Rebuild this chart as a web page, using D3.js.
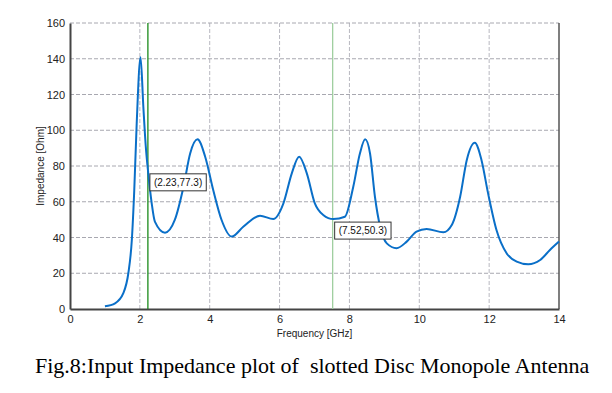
<!DOCTYPE html>
<html>
<head>
<meta charset="utf-8">
<script src="https://cdn.jsdelivr.net/npm/d3@7"></script>
<style>
  body { margin: 0; background: #fff; }
  svg { display: block; }
</style>
</head>
<body>
<div id="chart"></div>
<script>
const width = 612, height = 393;
const margin = {top: 23, right: 53, bottom: 84, left: 70};

// Impedance curve
const freq = [1.0, 1.29, 1.53, 1.67, 1.77, 1.84, 1.91, 2.02, 2.10, 2.17, 2.24, 2.34, 2.43, 2.72, 3.0,
    3.25, 3.44, 3.65, 3.87, 4.1, 4.34, 4.63, 4.96, 5.44, 5.82, 6.11, 6.35, 6.56, 6.78, 7.01, 7.25,
    7.54, 7.87, 8.11, 8.30, 8.45, 8.59, 8.73, 8.88, 9.07, 9.35, 9.64, 9.92, 10.21, 10.69, 10.93,
    11.17, 11.36, 11.59, 11.78, 11.97, 12.21, 12.50, 12.79, 13.12, 13.46, 13.74, 14.0];
const impedance = [1.5, 3.2, 9, 20, 38.6, 66.6, 104, 140.8, 113, 90.8, 76, 59, 48.9, 42.7, 49.8,
    68.4, 87, 94.9, 85.2, 66.6, 49.8, 40.5, 46, 52.2, 50.3, 59.1, 75.9, 85.2, 75.9, 59.1, 52.6,
    50.3, 51.6, 68.4, 87, 94.9, 87, 62.8, 46, 36.7, 34, 37.7, 43.3, 44.8, 42.9, 47,
    62.8, 83.4, 93, 83.4, 64.7, 44.2, 31.2, 26.5, 25.0, 27.4, 33, 37.7];

const xTicks = [0, 2, 4, 6, 8, 10, 12, 14];
const yTicks = [0, 20, 40, 60, 80, 100, 120, 140, 160];

// marker lines with their labels
const markers = [
    {f: 2.23, v: 77.3, label: "(2.23,77.3)", color: "#1a8a1a"},
    {f: 7.52, v: 50.3, label: "(7.52,50.3)", color: "#9fcf9f"}
];

const svg = d3.select('#chart').append('svg')
    .attr('width', width)
    .attr('height', height);

svg.append('rect').attr('width', width).attr('height', height).attr('fill', '#fff');

const x = d3.scaleLinear().domain([0, 14]).range([margin.left, width - margin.right]);
const y = d3.scaleLinear().domain([0, 160]).range([height - margin.bottom, margin.top]);

const tickFont = "'Liberation Sans Narrow', 'Liberation Sans', Arial, sans-serif";

// grid
svg.append("g")
    .selectAll("line")
    .data(xTicks.slice(1, -1))
    .enter().append("line")
    .attr("x1", d => x(d)).attr("x2", d => x(d))
    .attr("y1", y(0)).attr("y2", y(160))
    .attr("stroke", "#b8b8c0")
    .attr("stroke-dasharray", "4,2");

svg.append("g")
    .selectAll("line")
    .data(yTicks.slice(1))
    .enter().append("line")
    .attr("x1", x(0)).attr("x2", x(14))
    .attr("y1", d => y(d)).attr("y2", d => y(d))
    .attr("stroke", "#a8a8b0")
    .attr("stroke-dasharray", "4,2");

// frame
svg.append("line")
    .attr("x1", x(14)).attr("x2", x(14))
    .attr("y1", y(0)).attr("y2", y(160))
    .attr("stroke", "#555").attr("stroke-width", 1.5);

// axes
const xAxis = svg.append("g")
    .attr("transform", `translate(0,${y(0)})`)
    .call(d3.axisBottom(x).tickValues(xTicks).tickSize(0).tickPadding(6));
const yAxis = svg.append("g")
    .attr("transform", `translate(${x(0)},0)`)
    .call(d3.axisLeft(y).tickValues(yTicks).tickSize(0).tickPadding(5));

[xAxis, yAxis].forEach(g => {
    g.select(".domain").attr("stroke", "#444").attr("stroke-width", 2);
    g.selectAll("text")
        .attr("font-family", tickFont)
        .attr("font-size", 11)
        .attr("fill", "#222");
});

// markers
markers.forEach(m => {
    svg.append("line")
        .attr("x1", x(m.f)).attr("x2", x(m.f))
        .attr("y1", y(0)).attr("y2", y(160))
        .attr("stroke", m.color)
        .attr("stroke-width", 1.3);
});

// curve
const line = d3.line()
    .x((d, i) => x(freq[i]))
    .y(d => y(d))
    .curve(d3.curveMonotoneX);

svg.append("path")
    .datum(impedance)
    .attr("fill", "none")
    .attr("stroke", "#0a6fc8")
    .attr("stroke-width", 2)
    .attr("d", line);

// marker labels
markers.forEach(m => {
    const g = svg.append("g")
        .attr("transform", `translate(${x(m.f) + 2},${y(m.v) + 3})`);
    const t = g.append("text")
        .attr("x", 4).attr("y", 12)
        .attr("font-family", tickFont)
        .attr("font-size", 10)
        .attr("fill", "#111")
        .text(m.label);
    const w = t.node().getComputedTextLength();
    g.insert("rect", "text")
        .attr("width", w + 8).attr("height", 17)
        .attr("fill", "#fff")
        .attr("stroke", "#333");
});

// axis titles
svg.append("text")
    .attr("x", (x(0) + x(14)) / 2)
    .attr("y", 337)
    .attr("text-anchor", "middle")
    .attr("font-family", tickFont)
    .attr("font-size", 10)
    .attr("fill", "#222")
    .text("Frequency [GHz]");

svg.append("text")
    .attr("transform", `translate(44,${(y(0) + y(160)) / 2}) rotate(-90)`)
    .attr("text-anchor", "middle")
    .attr("font-family", tickFont)
    .attr("font-size", 10)
    .attr("fill", "#222")
    .text("Impedance [Ohm]");

// caption
svg.append("text")
    .attr("x", 35)
    .attr("y", 373)
    .attr("font-family", "'Liberation Serif', 'Times New Roman', serif")
    .attr("font-size", 22)
    .attr("fill", "#000")
    .style("white-space", "pre")
    .text("Fig.8:Input Impedance plot of  slotted Disc Monopole Antenna");
</script>
</body>
</html>
